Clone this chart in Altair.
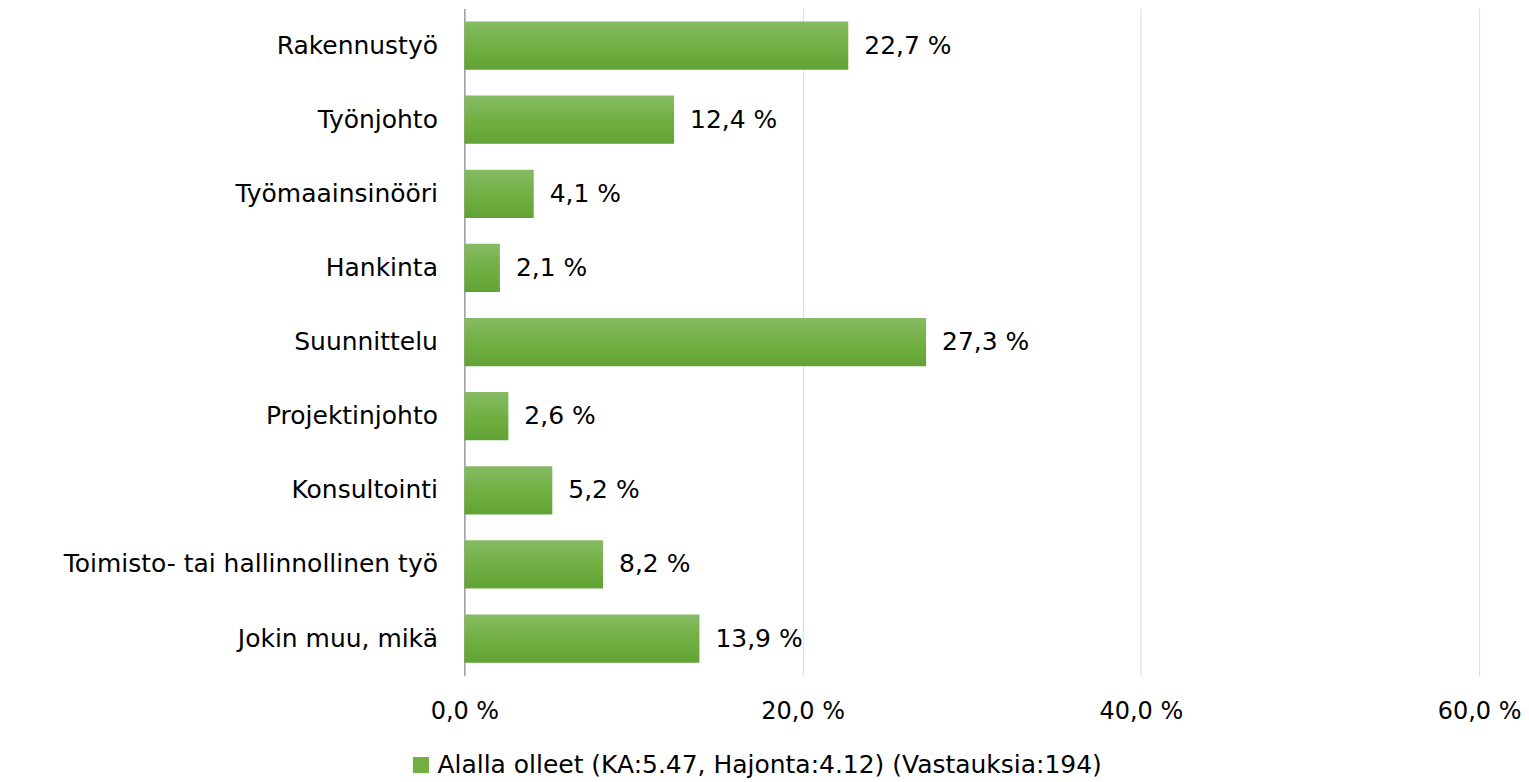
import altair as alt
import pandas as pd

categories = [
    "Rakennustyö",
    "Työnjohto",
    "Työmaainsinööri",
    "Hankinta",
    "Suunnittelu",
    "Projektinjohto",
    "Konsultointi",
    "Toimisto- tai hallinnollinen työ",
    "Jokin muu, mikä",
]
values = [22.7, 12.4, 4.1, 2.1, 27.3, 2.6, 5.2, 8.2, 13.9]
series_name = "Alalla olleet (KA:5.47, Hajonta:4.12) (Vastauksia:194)"
x_ticks = [0, 20, 40, 60]

df = pd.DataFrame({"kategoria": categories, "arvo": values})
df["label"] = [f"{v:.1f}".replace(".", ",") + " %" for v in values]
df["sarja"] = series_name

FONT = "DejaVu Sans"
FS = 25

gradient = alt.Gradient(
    gradient="linear",
    stops=[
        alt.GradientStop(color="#86bb65", offset=0),
        alt.GradientStop(color="#72b043", offset=0.5),
        alt.GradientStop(color="#62a336", offset=1),
    ],
    x1=0, x2=0, y1=0, y2=1,
)

y_axis = alt.Axis(
    title=None,
    labelFont=FONT,
    labelFontSize=FS,
    labelColor="#000000",
    labelPadding=27,
    ticks=False,
    domainColor="#8c8c8c",
    domainWidth=1.2,
    grid=False,
    minExtent=457,
    maxExtent=457,
    labelLimit=500,
)
y_enc = alt.Y(
    "kategoria:N",
    sort=categories,
    scale=alt.Scale(paddingInner=0.35, paddingOuter=0.175),
    axis=y_axis,
)

x_axis = alt.Axis(
    title=None,
    values=x_ticks,
    labelExpr="replace(format(datum.value, '.1f'), '.', ',') + ' %'",
    labelFont=FONT,
    labelFontSize=24,
    labelColor="#000000",
    labelPadding=24,
    labelFlush=False,
    labelBound=False,
    ticks=False,
    domain=False,
    grid=True,
    gridColor="#d5e1ee",
    gridWidth=1.2,
)
x_enc = alt.X("arvo:Q", scale=alt.Scale(domain=[0, 60], nice=False), axis=x_axis)

bars = alt.Chart(df).mark_bar(color=gradient).encode(x=x_enc, y=y_enc)

texts = alt.Chart(df).mark_text(
    align="left", baseline="middle", dx=16, font=FONT, fontSize=FS, color="#000000"
).encode(x=x_enc, y=y_enc, text="label:N")

legend_layer = alt.Chart(df).mark_point(shape="square", filled=True, opacity=0).encode(
    x=x_enc,
    y=y_enc,
    color=alt.Color(
        "sarja:N",
        scale=alt.Scale(range=["#72b043"]),
        legend=alt.Legend(
            title=None,
            orient="none",
            legendX=-56,
            legendY=745,
            symbolType="square",
            symbolSize=260,
            symbolOpacity=1,
            symbolStrokeWidth=0,
            labelFont=FONT,
            labelFontSize=FS,
            labelColor="#000000",
            labelLimit=1000,
            labelOffset=4,
        ),
    ),
)

chart = (
    alt.layer(bars, texts, legend_layer)
    .properties(
        width=1016,
        height=668,
        background="white",
        padding={"left": 0, "top": 0, "right": 0, "bottom": 0},
    )
    .configure_view(strokeWidth=0, stroke="transparent")
    .configure_axisY(grid=False)
)

chart.save("out.html", embed_options={"renderer": "svg", "actions": False})
